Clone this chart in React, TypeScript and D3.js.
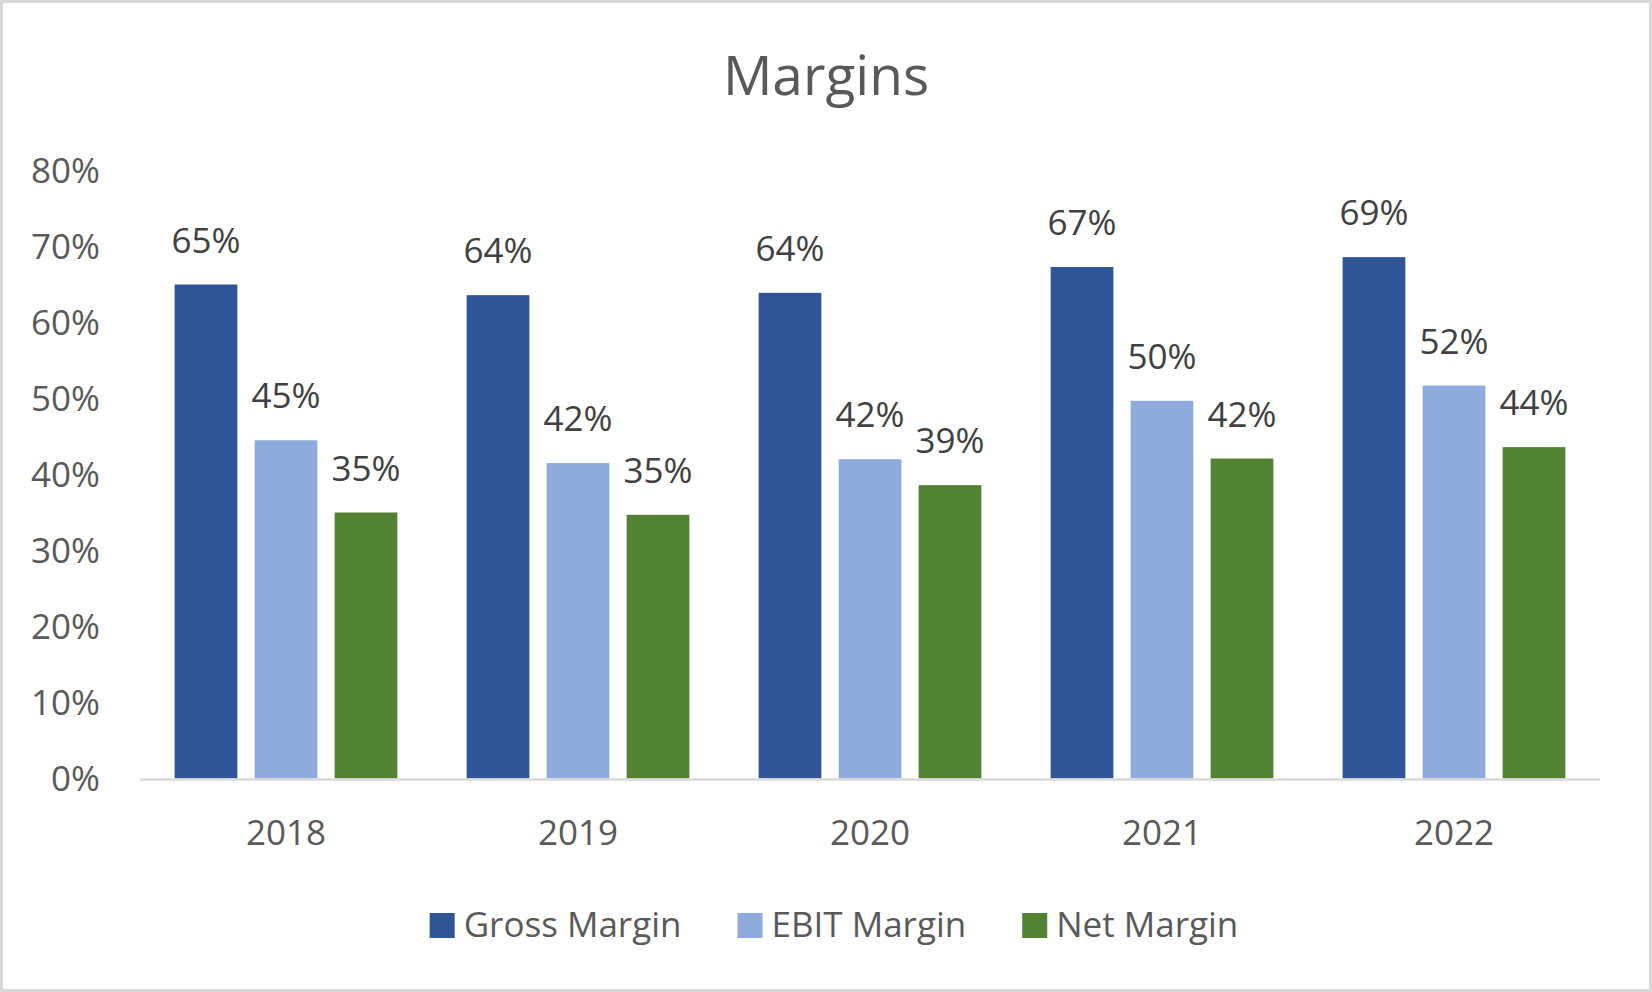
import * as d3 from "d3";
import { useRef, useEffect } from "react";

const years = ["2018", "2019", "2020", "2021", "2022"];
const seriesNames = ["Gross Margin", "EBIT Margin", "Net Margin"];
const grossMargin = [0.650, 0.636, 0.639, 0.673, 0.686];
const ebitMargin = [0.445, 0.415, 0.420, 0.497, 0.517];
const netMargin = [0.350, 0.347, 0.386, 0.421, 0.436];
const yTicks = [0, 0.1, 0.2, 0.3, 0.4, 0.5, 0.6, 0.7, 0.8];
const colors = ["#2F5597", "#8FAADC", "#548235"];

const width = 1652;
const height = 992;
const marginLeft = 140;
const marginRight = 52;
const plotTop = 170.5;
const plotBottom = 778.5;
const font = "'Open Sans', sans-serif";

const App = () => {
  const ref = useRef<SVGSVGElement>(null);

  useEffect(() => {
    document.body.style.margin = "0";
    if (!ref.current) return;
    const svg = d3.select(ref.current);
    svg.selectAll("*").remove();

    const values = [grossMargin, ebitMargin, netMargin];

    const x0 = d3.scaleBand<string>()
      .domain(years)
      .range([marginLeft, width - marginRight]);

    const x1 = d3.scaleBand<string>()
      .domain(seriesNames)
      .range([0, x0.bandwidth()])
      .paddingInner(0.216)
      .paddingOuter(0.433);

    const y = d3.scaleLinear()
      .domain([0, 0.8])
      .range([plotBottom, plotTop]);

    const pct = d3.format(".0%");

    // chart border
    svg.append("rect")
      .attr("x", 1.5).attr("y", 1.5)
      .attr("width", width - 3).attr("height", height - 3)
      .attr("fill", "#fff")
      .attr("stroke", "#d9d9d9")
      .attr("stroke-width", 3);

    // title
    svg.append("text")
      .attr("x", width / 2)
      .attr("y", 95)
      .attr("text-anchor", "middle")
      .attr("font-family", font)
      .attr("font-size", 55)
      .attr("fill", "#595959")
      .text("Margins");

    // y axis labels
    svg.append("g")
      .selectAll("text")
      .data(yTicks)
      .join("text")
      .attr("x", 100)
      .attr("y", d => y(d) + 12)
      .attr("text-anchor", "end")
      .attr("font-family", font)
      .attr("font-size", 35)
      .attr("fill", "#595959")
      .text(d => pct(d));

    // bars
    const groups = svg.append("g")
      .selectAll("g")
      .data(years)
      .join("g")
      .attr("transform", d => `translate(${x0(d)},0)`);

    seriesNames.forEach((name, si) => {
      groups.append("rect")
        .attr("x", x1(name)!)
        .attr("y", (_, i) => y(values[si][i]))
        .attr("width", x1.bandwidth())
        .attr("height", (_, i) => plotBottom - y(values[si][i]))
        .attr("fill", colors[si]);

      groups.append("text")
        .attr("x", x1(name)! + x1.bandwidth() / 2)
        .attr("y", (_, i) => y(values[si][i]) - 32)
        .attr("text-anchor", "middle")
        .attr("font-family", font)
        .attr("font-size", 35)
        .attr("fill", "#404040")
        .text((_, i) => pct(values[si][i]));
    });

    // x axis line
    svg.append("line")
      .attr("x1", marginLeft).attr("x2", width - marginRight)
      .attr("y1", plotBottom + 1).attr("y2", plotBottom + 1)
      .attr("stroke", "#d9d9d9")
      .attr("stroke-width", 2.5);

    // x labels
    svg.append("g")
      .selectAll("text")
      .data(years)
      .join("text")
      .attr("x", d => x0(d)! + x0.bandwidth() / 2)
      .attr("y", 845)
      .attr("text-anchor", "middle")
      .attr("font-family", font)
      .attr("font-size", 35)
      .attr("fill", "#595959")
      .text(d => d);

    // legend
    const gap = 56;
    const legend = svg.append("g");
    let cx = 0;
    seriesNames.forEach((name, i) => {
      const item = legend.append("g").attr("transform", `translate(${cx},0)`);
      item.append("rect")
        .attr("x", 0).attr("y", 913)
        .attr("width", 25).attr("height", 25)
        .attr("fill", colors[i]);
      const t = item.append("text")
        .attr("x", 34)
        .attr("y", 937)
        .attr("font-family", font)
        .attr("font-size", 35)
        .attr("fill", "#595959")
        .text(name);
      const w = (t.node() as SVGTextElement).getComputedTextLength();
      cx += 34 + w + gap;
    });
    const total = cx - gap;
    legend.attr("transform", `translate(${834 - total / 2},0)`);
  }, []);

  return <svg ref={ref} width={width} height={height} style={{ display: "block" }} />;
};

export default App;
